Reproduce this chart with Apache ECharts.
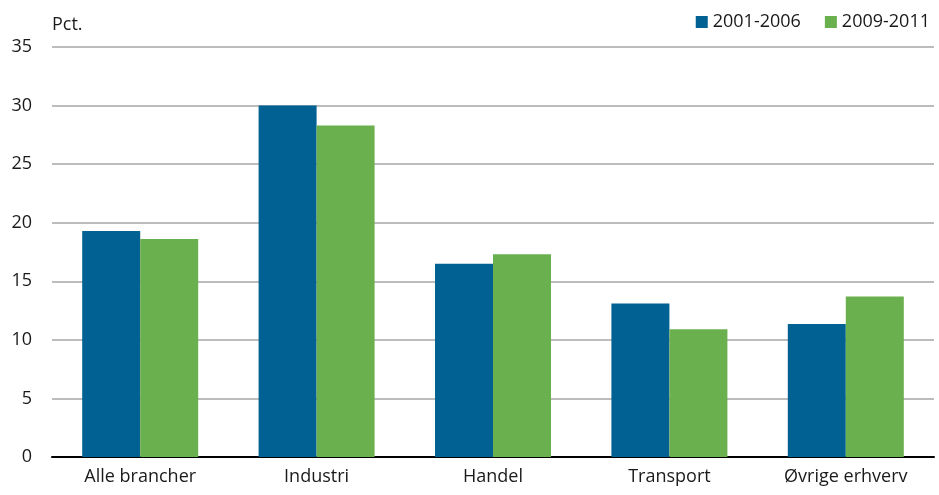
<!DOCTYPE html>
<html>
<head>
<meta charset="utf-8">
<script src="https://cdn.jsdelivr.net/npm/echarts@6/dist/echarts.min.js"></script>
<style>html,body{margin:0;padding:0;background:#fff;}#c{width:939px;height:495px;}</style>
</head>
<body>
<div id="c"></div>
<script>
const categories = ['Alle brancher', 'Industri', 'Handel', 'Transport', 'Øvrige erhverv'];
const series2001 = [19.3, 30.0, 16.5, 13.1, 11.35];
const series2009 = [18.6, 28.3, 17.3, 10.9, 13.7];
const seriesNames = ['2001-2006', '2009-2011'];
const FONT = '"Open Sans", "Noto Sans", sans-serif';

const chart = echarts.init(document.getElementById('c'));
chart.setOption({
  animation: false,
  textStyle: { fontFamily: FONT },
  legend: {
    right: 4, top: 8,
    itemWidth: 12, itemHeight: 12, itemGap: 24,
    icon: 'rect',
    textStyle: { fontSize: 18, color: '#1a1a1a', fontFamily: FONT }
  },
  grid: { left: 52, right: 5, top: 47, bottom: 38 },
  xAxis: {
    type: 'category', data: categories,
    axisLine: { lineStyle: { color: '#000', width: 2 } },
    axisTick: { show: false },
    axisLabel: { fontSize: 18, color: '#1a1a1a', margin: 11, fontFamily: FONT }
  },
  yAxis: {
    type: 'value', min: 0, max: 35, interval: 5,
    name: 'Pct.', nameLocation: 'end', nameGap: 13,
    nameTextStyle: { fontSize: 18, color: '#1a1a1a', align: 'left', padding: [0, 0, 0, 0], fontFamily: FONT },
    axisLine: { show: false }, axisTick: { show: false },
    axisLabel: { fontSize: 18, color: '#1a1a1a', margin: 20, fontFamily: FONT },
    splitLine: { lineStyle: { color: '#a6a6a6', width: 1.5 } }
  },
  series: [
    { name: seriesNames[0], type: 'bar', data: series2001, barWidth: 58, barGap: '0%', itemStyle: { color: '#006192' } },
    { name: seriesNames[1], type: 'bar', data: series2009, barWidth: 58, barGap: '0%', itemStyle: { color: '#6ab04f' } }
  ]
});
</script>
</body>
</html>
